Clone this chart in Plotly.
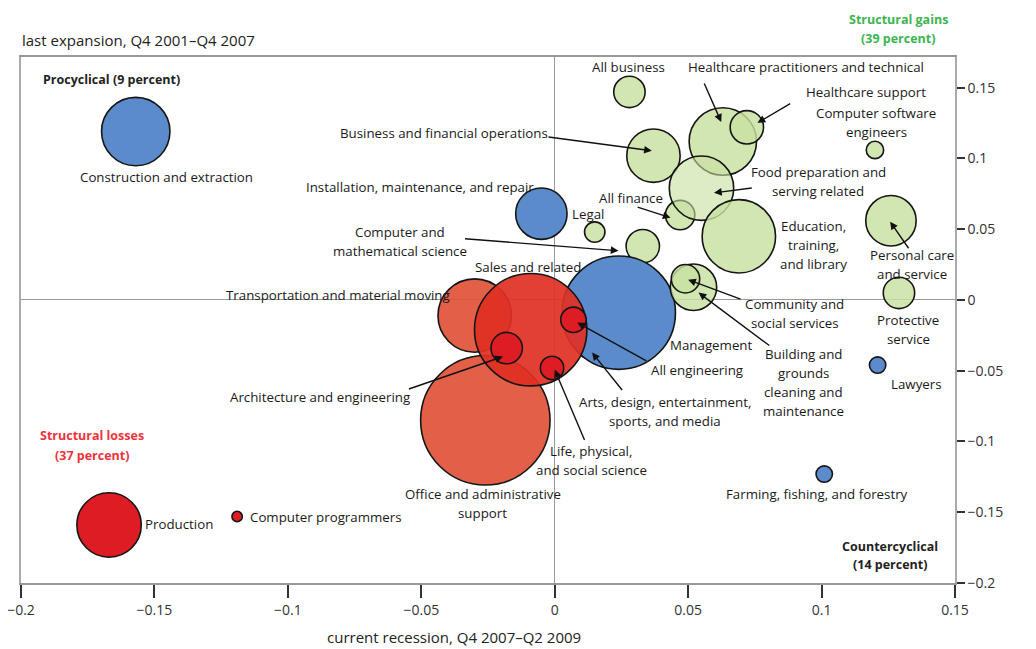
import plotly.graph_objects as go

# ---------------- data ----------------
occupations = [
    "Construction and extraction", "Production", "Computer programmers",
    "Farming, fishing, and forestry", "Lawyers",
    "Installation, maintenance, and repair", "Legal",
    "Computer and mathematical science", "All business",
    "Arts, design, entertainment, sports, and media", "Management",
    "Transportation and material moving", "Office and administrative support",
    "Sales and related", "Architecture and engineering",
    "Life, physical, and social science", "All engineering",
    "Business and financial operations", "Healthcare practitioners and technical",
    "Healthcare support", "All finance", "Food preparation and serving related",
    "Education, training, and library", "Building and grounds cleaning and maintenance",
    "Community and social services", "Computer software engineers",
    "Personal care and service", "Protective service",
]
# current recession (Q4 2007-Q2 2009) change
x_recession = [
    -0.157, -0.167, -0.119, 0.101, 0.121,
    -0.005, 0.015, 0.033, 0.028, 0.013, 0.024,
    -0.030, -0.026, -0.009, -0.018, -0.001, 0.007,
    0.037, 0.063, 0.072, 0.047, 0.055, 0.069, 0.052, 0.049, 0.120, 0.126, 0.129,
]
# last expansion (Q4 2001-Q4 2007) change
y_expansion = [
    0.119, -0.159, -0.153, -0.123, -0.046,
    0.061, 0.048, 0.038, 0.147, -0.033, -0.009,
    -0.011, -0.085, -0.021, -0.034, -0.048, -0.014,
    0.102, 0.112, 0.122, 0.060, 0.079, 0.045, 0.009, 0.015, 0.106, 0.056, 0.005,
]
# relative bubble size (employment)
bubble_size = [
    70, 66, 12, 18, 18,
    53, 22, 35, 33, 26, 115,
    75, 131, 114, 33, 25, 27,
    55, 69, 35, 31, 66, 75, 48, 30, 19, 52, 33,
]
x_tick_values = [-0.2, -0.15, -0.1, -0.05, 0, 0.05, 0.1, 0.15]
x_tick_labels = ["\u22120.2", "\u22120.15", "\u22120.1", "\u22120.05", "0", "0.05", "0.1", "0.15"]
y_tick_values = [-0.2, -0.15, -0.1, -0.05, 0, 0.05, 0.1, 0.15]
y_tick_labels = ["\u22120.2", "\u22120.15", "\u22120.1", "\u22120.05", "0", "0.05", "0.1", "0.15"]

# ---------------- styles ----------------
BLUE = "rgb(91,139,203)"
LBLUE = "rgb(168,198,234)"
RED = "rgb(221,28,36)"
ORANGE = "rgba(224,84,58,0.93)"
SALES = "rgba(224,48,36,0.92)"
GREEN = "rgba(200,224,160,0.82)"
GREEN_LIGHT = "rgba(200,224,160,0.6)"
fill_by_name = {
    "Construction and extraction": BLUE, "Production": RED, "Computer programmers": RED,
    "Farming, fishing, and forestry": BLUE, "Lawyers": BLUE,
    "Installation, maintenance, and repair": BLUE,
    "Arts, design, entertainment, sports, and media": LBLUE, "Management": BLUE,
    "Transportation and material moving": ORANGE, "Office and administrative support": ORANGE,
    "Sales and related": SALES, "Architecture and engineering": RED,
    "Life, physical, and social science": RED, "All engineering": RED,
    "Food preparation and serving related": GREEN_LIGHT,
}
fills = [fill_by_name.get(n, GREEN) for n in occupations]
LINE_W = 1.6

fig = go.Figure()
fig.add_trace(go.Scatter(
    x=x_recession, y=y_expansion, mode="markers", text=occupations,
    hoverinfo="text",
    marker=dict(size=[s - LINE_W for s in bubble_size], sizemode="diameter", sizeref=1,
                color=fills, opacity=1, line=dict(color="#151515", width=LINE_W)),
))

LABEL_FONT = dict(family="Open Sans", size=13.3, color="#1a1a1a")
LINE_H = 19

labels = [
    ("All business", 0.0276, 0.1647, "center"),
    ("Healthcare practitioners and technical", 0.0942, 0.1647, "center"),
    ("Healthcare support", 0.1165, 0.147, "center"),
    ("Computer software<br>engineers", 0.1204, 0.1254, "center"),
    ("Business and financial operations", -0.0414, 0.1181, "center"),
    ("Food preparation and<br>serving related", 0.0988, 0.0835, "center"),
    ("All finance", 0.0287, 0.0722, "center"),
    ("Legal", 0.0125, 0.0609, "center"),
    ("Installation, maintenance, and repair", -0.0504, 0.080, "center"),
    ("Computer and<br>mathematical science", -0.058, 0.0411, "center"),
    ("Sales and related", -0.0101, 0.0235, "center"),
    ("Transportation and material moving", -0.0811, 0.0037, "center"),
    ("Architecture and engineering", -0.0878, -0.0683, "center"),
    ("Management", 0.0589, -0.0315, "center"),
    ("All engineering", 0.0535, -0.0492, "center"),
    ("Arts, design, entertainment,<br>sports, and media", 0.0415, -0.0789, "center"),
    ("Life, physical,<br>and social science", 0.0136, -0.1134, "center"),
    ("Office and administrative<br>support", -0.027, -0.1438, "center"),
    ("Production", -0.1543, -0.158, "left"),
    ("Computer programmers", -0.115, -0.1537, "left"),
    ("Construction and extraction", -0.1454, 0.087, "center"),
    ("Education,<br>training,<br>and library", 0.0969, 0.039, "center"),
    ("Personal care<br>and service", 0.134, 0.0249, "center"),
    ("Community and<br>social services", 0.0899, -0.0097, "center"),
    ("Building and<br>grounds<br>cleaning and<br>maintenance", 0.0934, -0.0581, "center"),
    ("Protective<br>service", 0.1325, -0.021, "center"),
    ("Lawyers", 0.1354, -0.0595, "center"),
    ("Farming, fishing, and forestry", 0.0984, -0.1374, "center"),
]

annotations = []
for text, lx, ly, anchor in labels:
    parts = text.split("<br>")
    n = len(parts)
    for k, p in enumerate(parts):
        annotations.append(dict(
            text=p, x=lx, y=ly, xref="x", yref="y", xanchor=anchor, yanchor="middle",
            yshift=-(k - (n - 1) / 2) * LINE_H, showarrow=False, font=LABEL_FONT))

arrows = [
    ((0.0558, 0.1541), (0.0624, 0.1258)),
    ((0.0888, 0.1393), (0.0760, 0.1252)),
    ((-0.0029, 0.1153), (0.0364, 0.1054)),
    ((0.0744, 0.0793), (0.0597, 0.0757)),
    ((0.0305, 0.0659), (0.0434, 0.0581)),
    ((-0.0342, 0.0433), (0.0239, 0.0348)),
    ((-0.0552, -0.0633), (-0.0194, -0.0400)),
    ((0.0349, -0.0436), (0.0085, -0.0160)),
    ((0.0257, -0.0647), (0.0140, -0.0372)),
    ((0.0114, -0.1000), (0.0000, -0.0492)),
    ((0.1330, 0.0355), (0.1257, 0.0553)),
    ((0.0702, 0.0002), (0.0500, 0.0143)),
    ((0.0810, -0.0330), (0.0539, 0.0052)),
]
for (tx, ty), (hx, hy) in arrows:
    annotations.append(dict(
        text="", x=hx, y=hy, ax=tx, ay=ty, xref="x", yref="y", axref="x", ayref="y",
        showarrow=True, arrowhead=2, arrowsize=1.1, arrowwidth=1.4, arrowcolor="#111",
        standoff=0, startstandoff=0))

BOLD = dict(family="Open Sans", size=12.5, color="#222")
GREEN_TXT = "rgb(60,180,80)"
RED_TXT = "rgb(240,50,60)"
quad = [
    ("<b>Procyclical (9 percent)</b>", 0.0974, 0.9563, BOLD),
    ("<b>Structural gains</b>", 0.939, 1.071, dict(BOLD, color=GREEN_TXT)),
    ("<b>(39 percent)</b>", 0.939, 1.035, dict(BOLD, color=GREEN_TXT)),
    ("<b>Structural losses</b>", 0.076, 0.281, dict(BOLD, color=RED_TXT)),
    ("<b>(37 percent)</b>", 0.076, 0.243, dict(BOLD, color=RED_TXT)),
    ("<b>Countercyclical</b>", 0.930, 0.070, BOLD),
    ("<b>(14 percent)</b>", 0.930, 0.036, BOLD),
]
for t, px, py, f in quad:
    annotations.append(dict(text=t, x=px, y=py, xref="paper", yref="paper",
                            xanchor="center", yanchor="middle", showarrow=False, font=f))

annotations.append(dict(text="last expansion, Q4 2001\u2013Q4 2007", x=-0.001, y=1.032,
                        xref="paper", yref="paper", xanchor="left", yanchor="middle",
                        showarrow=False, font=dict(family="Open Sans", size=15, color="#222")))
annotations.append(dict(text="current recession, Q4 2007\u2013Q2 2009", x=0.3255, y=-0.1027,
                        xref="paper", yref="paper", xanchor="left", yanchor="middle",
                        showarrow=False, font=dict(family="Open Sans", size=15, color="#222")))

fig.update_layout(
    width=1028, height=641, template="none",
    margin=dict(l=13, r=81, t=49, b=66, pad=0),
    paper_bgcolor="white", plot_bgcolor="white", showlegend=False,
    font=dict(family="Open Sans", size=12, color="#222"),
    annotations=annotations,
    xaxis=dict(range=[-0.2, 0.15], tickmode="array", tickvals=x_tick_values,
               ticktext=x_tick_labels, ticks="outside", ticklen=13, tickwidth=1.5,
               tickcolor="#333", showgrid=False, zeroline=True, zerolinecolor="#999",
               zerolinewidth=1.3, showline=True, linecolor="#999", linewidth=1.5,
               mirror=True, tickfont=dict(size=14, color="#333"),
               ticklabeloverflow="allow"),
    yaxis=dict(range=[-0.2, 0.1717], side="right", tickmode="array",
               tickvals=y_tick_values, ticktext=y_tick_labels, ticks="outside",
               ticklen=8, tickwidth=1.5, tickcolor="#333", showgrid=False,
               zeroline=True, zerolinecolor="#999", zerolinewidth=1.3, showline=True,
               linecolor="#aaa", linewidth=1.5, mirror=True,
               tickfont=dict(size=14, color="#333"), ticklabeloverflow="allow"),
)

fig.write_html("out.html")
